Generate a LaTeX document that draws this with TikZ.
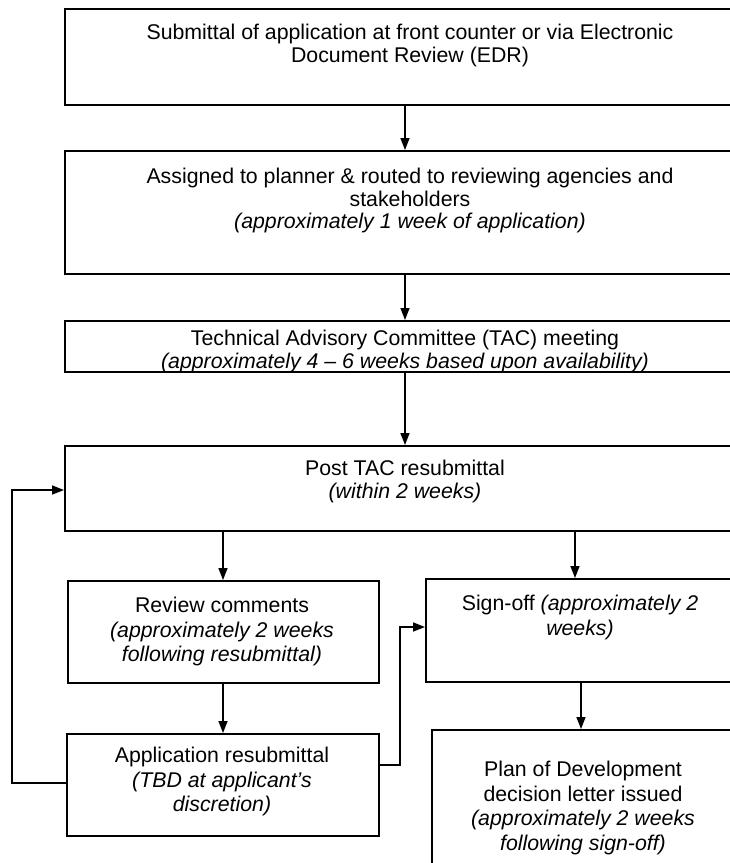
\documentclass[tikz,border=0pt]{standalone}
\usepackage{fontspec}
\setmainfont{Liberation Sans}
\usetikzlibrary{arrows.meta}
\begin{document}
\begin{tikzpicture}[x=1pt,y=-1pt,
  box/.style={draw, line width=1.5pt, rectangle, anchor=north west, inner sep=0pt, fill=white},
  txt/.style={align=center, anchor=north, inner sep=0pt, font=\fontsize{21.3}{22.5}\selectfont},
  txtb/.style={txt, font=\fontsize{21.3}{24.5}\selectfont},
  arr/.style={line width=1.5pt, -{Triangle[length=12pt,width=9pt]}},
  ln/.style={line width=1.5pt}]
\fill[white] (0,0) rectangle (730,863);
\useasboundingbox (0,0) rectangle (730,863);
\begin{scope}
\clip (0,0) rectangle (730,863);
% boxes
\node[box, minimum width=692pt, minimum height=96pt] (b1) at (64,8) {};
\node[box, minimum width=692pt, minimum height=123pt] (b2) at (64,150) {};
\node[box, minimum width=692pt, minimum height=51pt] (b3) at (64,320) {};
\node[box, minimum width=682pt, minimum height=85pt] (b4) at (64,445) {};
\node[box, minimum width=311pt, minimum height=102pt] (b5) at (67,580) {};
\node[box, minimum width=312pt, minimum height=102pt] (b6) at (66,733) {};
\node[box, minimum width=310pt, minimum height=103pt] (b7) at (425,578) {};
\node[box, minimum width=304pt, minimum height=170pt] (b8) at (431,729) {};
% texts
\node[txt] (t1) at (410,24) {Submittal of application at front counter or via Electronic\\Document Review (EDR)};
\node[txt] (t2) at (410,168) {Assigned to planner \& routed to reviewing agencies and\\stakeholders\\\textit{(approximately 1 week of application)}};
\node[txt] (t3) at (405,330) {Technical Advisory Committee (TAC) meeting\\\textit{(approximately 4 – 6 weeks based upon availability)}};
\node[txt] (t4) at (405,460) {Post TAC resubmittal\\\textit{(within 2 weeks)}};
\node[txtb] (t5) at (222,597) {Review comments\\\textit{(approximately 2 weeks}\\\textit{following resubmittal)}};
\node[txtb] (t6) at (222,747) {Application resubmittal\\\textit{(TBD at applicant’s}\\\textit{discretion)}};
\node[txtb] (t7) at (580,595) {Sign-off \textit{(approximately 2}\\\textit{weeks)}};
\node[txtb] (t8) at (583,761) {Plan of Development\\decision letter issued\\\textit{(approximately 2 weeks}\\\textit{following sign-off)}};
% connector guides
\coordinate (xa) at (405,0);
\coordinate (xb) at (223,0);
\coordinate (xc) at (575,0);
\coordinate (xd) at (581,0);
\coordinate (loopL) at (12,0);
\coordinate (loopR) at (400,0);
\coordinate (yL1) at (0,783);
\coordinate (yL2) at (0,490);
\coordinate (yR1) at (0,765);
\coordinate (yR2) at (0,627);
% arrows
\draw[arr] (b1.south -| xa) -- (b2.north -| xa);
\draw[arr] (b2.south -| xa) -- (b3.north -| xa);
\draw[arr] (b3.south -| xa) -- (b4.north -| xa);
\draw[arr] (b4.south -| xb) -- (b5.north -| xb);
\draw[arr] (b4.south -| xc) -- (b7.north -| xc);
\draw[arr] (b5.south -| xb) -- (b6.north -| xb);
\draw[arr] (b7.south -| xd) -- (b8.north -| xd);
\draw[arr] (b6.west |- yL1) -- (loopL |- yL1) -- (loopL |- yL2) -- (b4.west |- yL2);
\draw[arr] (b6.east |- yR1) -- (loopR |- yR1) -- (loopR |- yR2) -- (b7.west |- yR2);
\end{scope}
\end{tikzpicture}
\end{document}
